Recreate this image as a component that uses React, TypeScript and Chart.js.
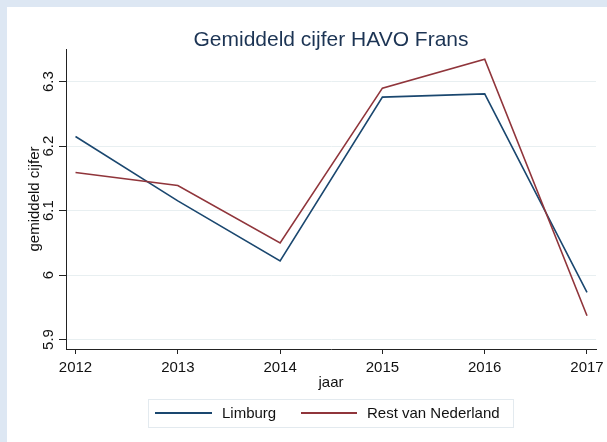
import React, { useEffect, useRef } from "react";
import { Chart, registerables } from "chart.js";

Chart.register(...registerables);

const years = [2012, 2013, 2014, 2015, 2016, 2017];
const limburg = [6.215, 6.115, 6.022, 6.276, 6.281, 5.973];
const restNL = [6.159, 6.139, 6.05, 6.29, 6.335, 5.937];
const yTicks = [5.9, 6.0, 6.1, 6.2, 6.3];
const yTickLabels = ["5.9", "6", "6.1", "6.2", "6.3"];
const seriesNames = ["Limburg", "Rest van Nederland"];
const titleText = "Gemiddeld cijfer HAVO Frans";
const xTitle = "jaar";
const yTitle = "gemiddeld cijfer";

const BLUE = "#1a476f";
const RED = "#90353b";
const FONT = "'Liberation Sans', Arial, sans-serif";

export default function App() {
  const ref = useRef<HTMLCanvasElement | null>(null);

  useEffect(() => {
    const canvas = ref.current;
    if (!canvas) return;

    const bgPlugin = {
      id: "bg",
      beforeDraw(chart: any) {
        const ctx = chart.ctx;
        ctx.save();
        ctx.fillStyle = "#dde7f3";
        ctx.fillRect(0, 0, chart.width, chart.height);
        ctx.fillStyle = "#ffffff";
        ctx.fillRect(7, 7, chart.width - 7, chart.height - 7);
        ctx.restore();
      },
    };

    const textPlugin = {
      id: "texts",
      afterDraw(chart: any) {
        const ctx = chart.ctx;
        const xs = chart.scales.x;
        const ys = chart.scales.y;
        const area = chart.chartArea;
        ctx.save();
        // title
        ctx.fillStyle = "#1c3454";
        ctx.font = `21px ${FONT}`;
        ctx.textAlign = "center";
        ctx.textBaseline = "alphabetic";
        ctx.fillText(titleText, (area.left + area.right) / 2, 46);

        // x tick labels
        ctx.fillStyle = "#111111";
        ctx.font = `15px ${FONT}`;
        years.forEach((yr) => {
          ctx.fillText(String(yr), xs.getPixelForValue(yr), 372);
        });
        // x title
        ctx.fillText(xTitle, (area.left + area.right) / 2, 386.5);

        // y tick labels rotated
        yTicks.forEach((v, i) => {
          ctx.save();
          ctx.translate(53, ys.getPixelForValue(v));
          ctx.rotate(-Math.PI / 2);
          ctx.textAlign = "center";
          ctx.textBaseline = "alphabetic";
          ctx.fillText(yTickLabels[i], 0, 0);
          ctx.restore();
        });
        // y title
        ctx.save();
        ctx.translate(38.5, (area.top + area.bottom) / 2);
        ctx.rotate(-Math.PI / 2);
        ctx.textAlign = "center";
        ctx.textBaseline = "alphabetic";
        ctx.fillText(yTitle, 0, 0);
        ctx.restore();

        // legend
        ctx.fillStyle = "#ffffff";
        ctx.strokeStyle = "#e3eaef";
        ctx.lineWidth = 1;
        ctx.fillRect(148, 399, 365, 28);
        ctx.strokeRect(148.5, 399.5, 365, 28);
        const items = [
          { color: BLUE, x0: 155, x1: 212, tx: 222, label: seriesNames[0] },
          { color: RED, x0: 301, x1: 357, tx: 367, label: seriesNames[1] },
        ];
        items.forEach((it) => {
          ctx.strokeStyle = it.color;
          ctx.lineWidth = 2;
          ctx.beginPath();
          ctx.moveTo(it.x0, 413);
          ctx.lineTo(it.x1, 413);
          ctx.stroke();
          ctx.fillStyle = "#111111";
          ctx.textAlign = "left";
          ctx.font = `15px ${FONT}`;
          ctx.fillText(it.label, it.tx, 417.5);
        });
        ctx.restore();
      },
    };

    const chart = new Chart(canvas, {
      type: "line",
      data: {
        datasets: [
          {
            label: seriesNames[0],
            data: years.map((x, i) => ({ x, y: limburg[i] })),
            borderColor: BLUE,
            borderWidth: 1.6,
            pointRadius: 0,
            tension: 0,
            order: 1,
          },
          {
            label: seriesNames[1],
            data: years.map((x, i) => ({ x, y: restNL[i] })),
            borderColor: RED,
            borderWidth: 1.6,
            pointRadius: 0,
            tension: 0,
            order: 0,
          },
        ],
      },
      options: {
        animation: false,
        responsive: false,
        devicePixelRatio: 1,
        layout: { padding: { left: 0, top: 49, right: 11, bottom: 0 } },
        plugins: {
          legend: { display: false },
          title: { display: false },
          tooltip: { enabled: false },
        },
        scales: {
          x: {
            type: "linear",
            min: 2011.907,
            max: 2017.088,
            afterBuildTicks: (s: any) => {
              s.ticks = years.map((v) => ({ value: v }));
            },
            afterFit: (s: any) => {
              s.height = 93;
            },
            ticks: { display: false },
            grid: {
              drawOnChartArea: false,
              drawTicks: true,
              tickLength: 5,
              tickColor: "#222222",
              tickWidth: 1,
            },
            border: { display: true, color: "#222222", width: 1 },
          },
          y: {
            type: "linear",
            min: 5.8853,
            max: 6.3507,
            afterBuildTicks: (s: any) => {
              s.ticks = yTicks.map((v) => ({ value: v }));
            },
            afterFit: (s: any) => {
              s.width = 66;
            },
            ticks: { display: false },
            grid: {
              drawOnChartArea: true,
              color: "#e8eff1",
              lineWidth: 1,
              drawTicks: true,
              tickLength: 7,
              tickColor: "#222222",
              tickWidth: 1,
            },
            border: { display: true, color: "#222222", width: 1 },
          },
        },
      },
      plugins: [bgPlugin, textPlugin],
    });

    return () => chart.destroy();
  }, []);

  return (
    <canvas
      ref={ref}
      width={607}
      height={442}
      style={{ position: "fixed", left: 0, top: 0, width: 607, height: 442 }}
    />
  );
}
